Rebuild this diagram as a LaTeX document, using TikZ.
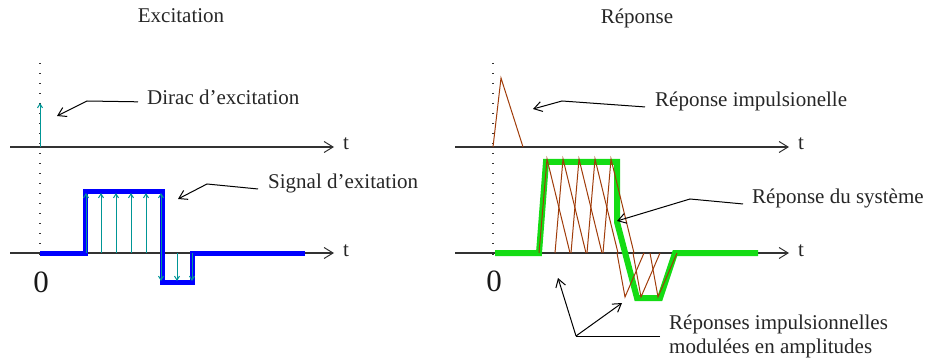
\documentclass[tikz,border=0pt]{standalone}
\usepackage{fontspec}
\setmainfont{Liberation Serif}
\usetikzlibrary{arrows.meta}
\definecolor{teal1}{RGB}{0,150,150}
\definecolor{sigblue}{RGB}{0,0,255}
\definecolor{resgreen}{RGB}{20,220,20}
\definecolor{brown1}{RGB}{160,60,10}
\definecolor{axisgray}{RGB}{50,50,50}
\tikzset{
 axis/.style={draw=axisgray, line width=1.1pt, -{Straight Barb[length=9pt,width=11pt,line width=1pt]}},
 zeroline/.style={draw=axisgray, line width=1.4pt, dash pattern=on 1.5pt off 8.5pt},
 annot/.style={draw=black, line width=1pt, -{Straight Barb[length=8pt,width=10pt]}},
 annotline/.style={draw=black, line width=1pt},
 impulse/.style={draw=teal1, line width=1pt, -{Straight Barb[length=4pt,width=5pt]}},
 sig/.style={draw=sigblue, line width=5pt, line join=miter},
 resp/.style={draw=resgreen, line width=6pt, line join=miter},
 tri/.style={draw=brown1, line width=1pt},
 lbl/.style={anchor=base west, inner sep=0pt, font=\fontsize{21}{25}\selectfont, text=black!85},
 ttl/.style={anchor=base, inner sep=0pt, font=\fontsize{21}{25}\selectfont, text=black!85},
 zero/.style={anchor=base, inner sep=0pt, font=\fontsize{31}{36}\selectfont, text=black!90},
}
\begin{document}
\begin{tikzpicture}[x=1pt,y=-1pt]
\useasboundingbox (0,0) rectangle (928,363);
% titles
\node[ttl] (t-exc) at (181,23) {Excitation};
\node[ttl] (t-rep) at (637,24) {Réponse};
% ---------- left panel ----------
\coordinate (l0top) at (40,63);
\coordinate (l0bot) at (40,257);
\draw[zeroline] (l0top) -- (l0bot);
\coordinate (la1s) at (10,147); \coordinate (la1e) at (334,147);
\coordinate (la2s) at (10,253); \coordinate (la2e) at (334,253);
\draw[axis] (la1s) -- (la1e);
\draw[axis] (la2s) -- (la2e);
\node[lbl] (lt1) at (343,150) {t};
\node[lbl] (lt2) at (343,256) {t};
\node[zero] (lzero) at (41,292) {0};
% dirac
\coordinate (dirac0) at (40,147); \coordinate (dirac1) at (40,103);
\draw[impulse] (dirac0) -- (dirac1);
% signal
\draw[sig] (40,253) -- (85,253) -- (85,192) -- (162,192) -- (162,282) -- (192,282) -- (192,253) -- (305,253);
\foreach \x in {86,101,116,131,146,161} {\draw[impulse] (\x,253) -- (\x,193);}
\foreach \x in {161,177,192} {\draw[impulse] (\x,253) -- (\x,281);}
% labels
\node[lbl] (ldirac) at (147,105) {Dirac d’excitation};
\coordinate (ldiracA) at (87,101); \coordinate (ldiracT) at (57,116);
\draw[annot] ([xshift=-9pt,yshift=-4pt]ldirac.west) -- (ldiracA) -- (ldiracT);
\node[lbl] (lsig) at (268,189) {Signal d’exitation};
\coordinate (lsigA) at (207,184); \coordinate (lsigT) at (178,199);
\draw[annot] ([xshift=-10pt,yshift=-5pt]lsig.west) -- (lsigA) -- (lsigT);
% ---------- right panel ----------
\coordinate (r0top) at (493,63);
\coordinate (r0bot) at (493,257);
\draw[zeroline] (r0top) -- (r0bot);
\coordinate (ra1s) at (455,147); \coordinate (ra1e) at (789,147);
\coordinate (ra2s) at (455,253); \coordinate (ra2e) at (789,253);
\draw[axis] (ra1s) -- (ra1e);
\draw[axis] (ra2s) -- (ra2e);
\node[lbl] (rt1) at (798,150) {t};
\node[lbl] (rt2) at (798,256) {t};
\node[zero] (rzero) at (494,291) {0};
% impulse response
\draw[tri] (493,147) -- (501,78) -- (523,147);
% system response
\draw[resp] (495,253) -- (539,253) -- (546,162) -- (617,162) -- (617,222) -- (637,298) -- (660,298) -- (675,253) -- (758,253);
\foreach \s in {539,555,571,587,603} {\draw[tri] (\s,253) -- (\s+8,159) -- (\s+31,253);}
\foreach \s in {617,633,650} {\draw[tri] (\s,253) -- (\s+8,297) -- (\s+27,253);}
% labels
\node[lbl] (rimp) at (655,107) {Réponse impulsionelle};
\coordinate (rimpA) at (562,101); \coordinate (rimpT) at (533,109);
\draw[annot] ([xshift=-10pt,yshift=-5pt]rimp.west) -- (rimpA) -- (rimpT);
\node[lbl] (rsys) at (752,204) {Réponse du système};
\coordinate (rsysA) at (690,199); \coordinate (rsysT) at (617,221);
\draw[annot] ([xshift=-9pt,yshift=-5pt]rsys.west) -- (rsysA) -- (rsysT);
\node[lbl] (rmod1) at (669,329) {Réponses impulsionnelles};
\node[lbl] (rmod2) at (669,353) {modulées en amplitudes};
\coordinate (rmodE) at (660,336); \coordinate (rmodA) at (576,336);
\coordinate (rmodT1) at (558,278); \coordinate (rmodT2) at (622,303);
\draw[annotline] (rmodE) -- (rmodA);
\draw[annot] (rmodA) -- (rmodT1);
\draw[annot] (rmodA) -- (rmodT2);
\end{tikzpicture}
\end{document}
